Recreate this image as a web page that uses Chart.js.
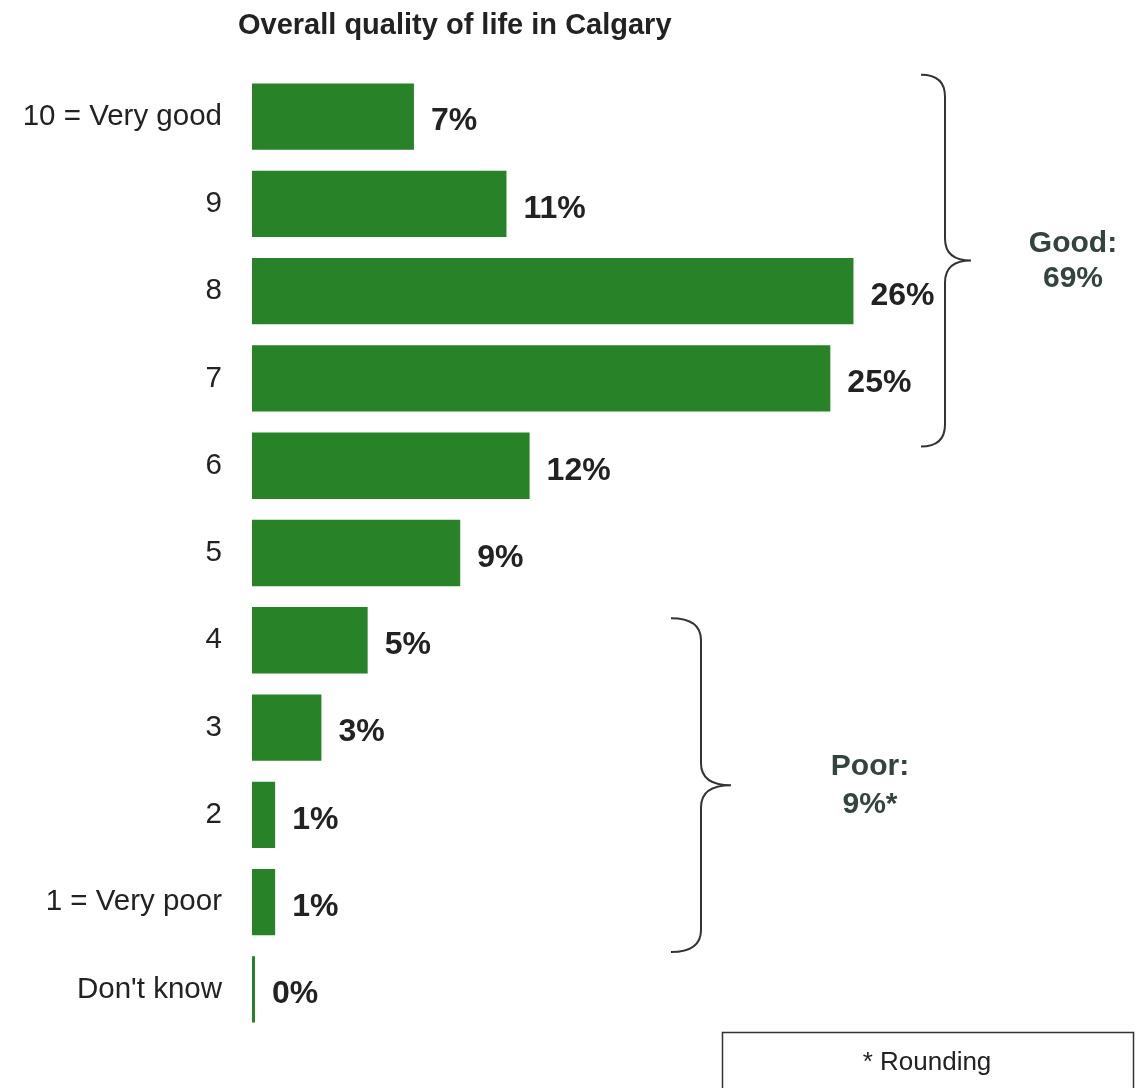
<!DOCTYPE html>
<html>
<head>
<meta charset="utf-8">
<title>Overall quality of life in Calgary</title>
<script src="https://cdn.jsdelivr.net/npm/chart.js@4/dist/chart.umd.min.js"></script>
<style>
  html, body { margin: 0; padding: 0; background: #fff; }
  #wrap { width: 1145px; height: 1088px; }
</style>
</head>
<body>
<div id="wrap"><canvas id="qolChart" width="1145" height="1088"></canvas></div>
<script>
// Survey answers, top to bottom
const categories = ['10 = Very good', '9', '8', '7', '6', '5', '4', '3', '2', '1 = Very poor', "Don't know"];
const shares = [7, 11, 26, 25, 12, 9, 5, 3, 1, 1, 0];
const valueLabels = ['7%', '11%', '26%', '25%', '12%', '9%', '5%', '3%', '1%', '1%', '0%'];
const groupLabels = { good: ['Good:', '69%'], poor: ['Poor:', '9%*'] };

const FONT = '"Liberation Sans", Arial, Helvetica, sans-serif';
const barGreen = '#288228';

function drawBrace(ctx, xEnd, xLine, xTip, top, bottom) {
  const mid = (top + bottom) / 2;
  const r = 22;
  ctx.beginPath();
  ctx.moveTo(xEnd, top);
  ctx.quadraticCurveTo(xLine, top, xLine, top + r);
  ctx.lineTo(xLine, mid - r);
  ctx.quadraticCurveTo(xLine, mid, xTip, mid);
  ctx.quadraticCurveTo(xLine, mid, xLine, mid + r);
  ctx.lineTo(xLine, bottom - r);
  ctx.quadraticCurveTo(xLine, bottom, xEnd, bottom);
  ctx.stroke();
}

// Value labels, title, braces and the footnote box
const annotations = {
  id: 'annotations',
  afterDatasetsDraw(chart) {
    const ctx = chart.ctx;
    const meta = chart.getDatasetMeta(0);
    ctx.save();
    ctx.font = 'bold 32px ' + FONT;
    ctx.fillStyle = '#222';
    ctx.textAlign = 'left';
    ctx.textBaseline = 'middle';
    meta.data.forEach((bar, i) => {
      ctx.fillText(valueLabels[i], bar.x + 17, bar.y + 5);
    });
    ctx.restore();
  },
  afterDraw(chart) {
    const ctx = chart.ctx;
    const y = chart.scales.y;
    ctx.save();

    // title
    ctx.font = 'bold 29px ' + FONT;
    ctx.fillStyle = '#222';
    ctx.textAlign = 'left';
    ctx.textBaseline = 'alphabetic';
    ctx.fillText('Overall quality of life in Calgary', 238, 34);

    // braces
    ctx.strokeStyle = '#333';
    ctx.lineWidth = 2;
    const goodTop = y.getPixelForValue(0) - 42;
    const goodBottom = y.getPixelForValue(3) + 68;
    drawBrace(ctx, 921, 945, 971, goodTop, goodBottom);
    const poorTop = y.getPixelForValue(6) - 22;
    const poorBottom = y.getPixelForValue(9) + 50;
    drawBrace(ctx, 671, 701, 731, poorTop, poorBottom);

    // group totals
    ctx.font = 'bold 30px ' + FONT;
    ctx.fillStyle = '#33443d';
    ctx.textAlign = 'center';
    ctx.textBaseline = 'middle';
    const goodMid = (goodTop + goodBottom) / 2;
    ctx.fillText(groupLabels.good[0], 1073, goodMid - 17);
    ctx.fillText(groupLabels.good[1], 1073, goodMid + 18);
    const poorMid = (poorTop + poorBottom) / 2;
    ctx.fillText(groupLabels.poor[0], 870, poorMid - 18);
    ctx.fillText(groupLabels.poor[1], 870, poorMid + 20);

    // footnote box
    ctx.lineWidth = 1.5;
    ctx.strokeRect(722.5, 1032.5, 411, 80);
    ctx.font = '26px ' + FONT;
    ctx.fillStyle = '#222';
    ctx.fillText('* Rounding', 927, 1063);

    ctx.restore();
  }
};

const qolCtx = document.getElementById('qolChart').getContext('2d');
const qolChart = new Chart(qolCtx, {
  type: 'bar',
  data: {
    labels: categories,
    datasets: [{
      data: shares,
      backgroundColor: barGreen,
      borderWidth: 0,
      barPercentage: 0.76,
      categoryPercentage: 1,
      minBarLength: 3
    }]
  },
  options: {
    indexAxis: 'y',
    responsive: false,
    animation: false,
    layout: {
      padding: { top: 73, bottom: 55, left: 0, right: 199 }
    },
    plugins: {
      legend: { display: false },
      title: { display: false },
      tooltip: { enabled: false }
    },
    scales: {
      x: {
        display: false,
        min: 0,
        max: 30
      },
      y: {
        grid: { display: false, drawTicks: false },
        border: { display: false },
        ticks: {
          padding: 30,
          color: '#222',
          font: { family: FONT, size: 29.5 }
        },
        afterFit(scale) {
          scale.width = 252;
        }
      }
    }
  },
  plugins: [annotations]
});
</script>
</body>
</html>
